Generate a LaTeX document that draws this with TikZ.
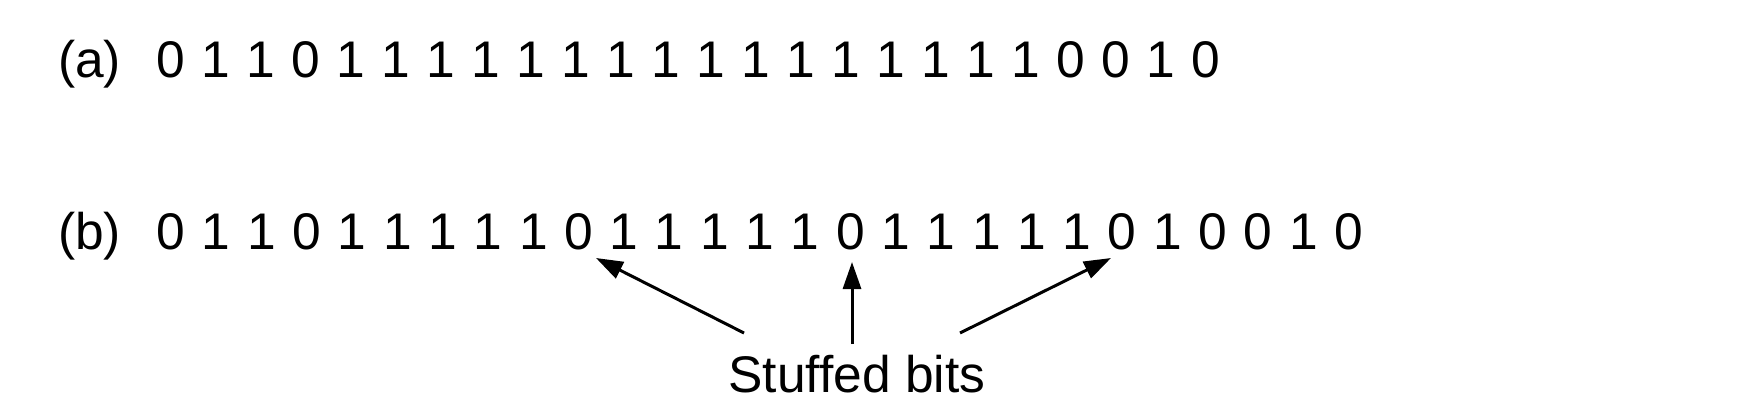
\documentclass[tikz,border=0pt]{standalone}
\usepackage{fontspec}
\setmainfont{Liberation Sans}
\usetikzlibrary{arrows.meta}
\begin{document}
\begin{tikzpicture}[x=1bp,y=-1bp,
  txt/.style={inner sep=0pt,font=\fontsize{51.7}{60}\selectfont},
  bit/.style={txt,anchor=base},
  lbl/.style={txt,anchor=base west},
  ptr/.style={line width=3bp,-{Triangle[length=27bp,width=18bp]}}]
\useasboundingbox[fill=white] (0,0) rectangle (1746,402);
% row (a)
\node[lbl] (la) at (58,77) {(a)};
\foreach \d [count=\i from 0] in {0,1,1,0,1,1,1,1,1,1,1,1,1,1,1,1,1,1,1,1,0,0,1,0}
  \node[bit] (a\i) at ({171+45.0*\i},77) {\d};
% row (b)
\node[lbl] (lb) at (58,249) {(b)};
\foreach \d [count=\i from 0] in {0,1,1,0,1,1,1,1,1,0,1,1,1,1,1,0,1,1,1,1,1,0,1,0,0,1,0}
  \node[bit] (b\i) at ({171+45.3*\i},249) {\d};
% label
\node[bit] (stuffed) at (857,392) {Stuffed bits};
% arrows
\coordinate (t1) at (744,333);
\coordinate (h1) at (596,258);
\coordinate (t2) at (852,344);
\coordinate (h2) at (852,262);
\coordinate (t3) at (960,333);
\coordinate (h3) at (1111,258);
\draw[ptr] (t1) -- (h1);
\draw[ptr] (t2) -- (h2);
\draw[ptr] (t3) -- (h3);
\end{tikzpicture}
\end{document}
